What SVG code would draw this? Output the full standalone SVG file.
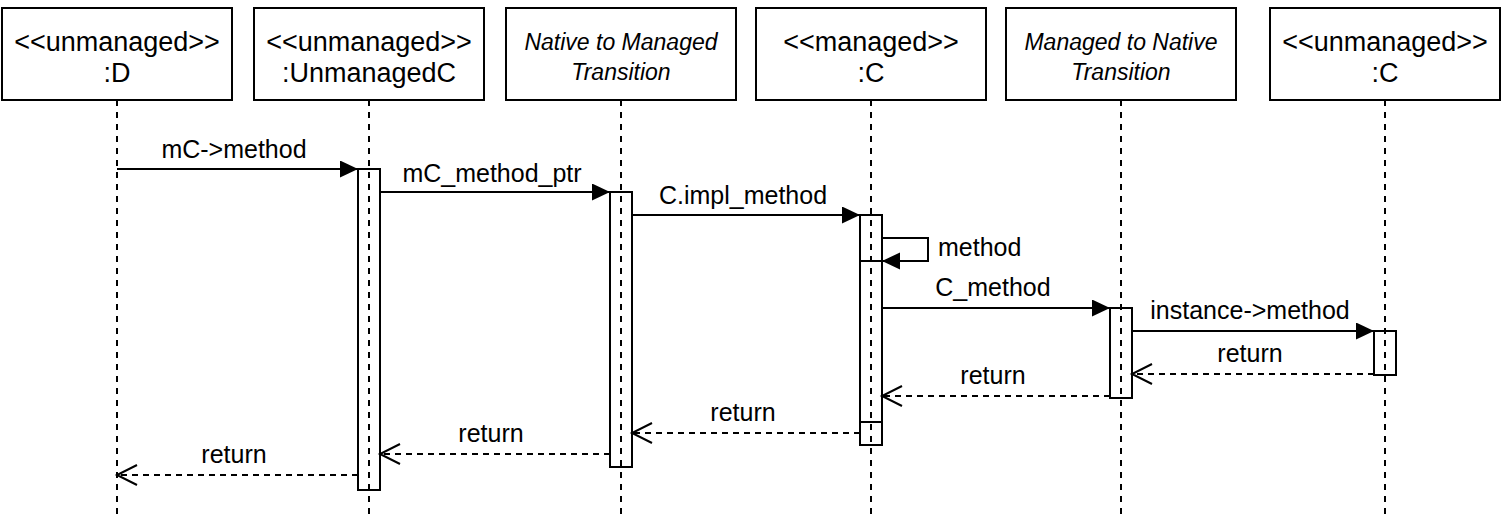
<svg xmlns="http://www.w3.org/2000/svg" width="1504" height="518" viewBox="0 0 1504 518">
<defs>
<style>
.box{fill:#fff;stroke:#000;stroke-width:2}
.act{fill:#fff;stroke:#000;stroke-width:2}
.life{stroke:#000;stroke-width:2;stroke-dasharray:6 6;fill:none}
.t{font-family:"Liberation Sans",Arial,Helvetica,sans-serif;font-size:27px;fill:#000;text-anchor:middle}
.ti{font-family:"Liberation Sans",Arial,Helvetica,sans-serif;font-size:23px;font-style:italic;fill:#000;text-anchor:middle}
.lbl{font-family:"Liberation Sans",Arial,Helvetica,sans-serif;font-size:25px;fill:#000;text-anchor:middle}
.msg{stroke:#000;stroke-width:2;fill:none;marker-end:url(#filled)}
.ret{stroke:#000;stroke-width:2;fill:none;stroke-dasharray:6 5;marker-end:url(#open)}
</style>
<marker id="filled" markerUnits="userSpaceOnUse" markerWidth="20" markerHeight="20" refX="18" refY="8.5" orient="auto" viewBox="0 0 20 20">
<path d="M0,0 L18,8.5 L0,17 z" fill="#000" stroke="none"/>
</marker>
<marker id="open" markerUnits="userSpaceOnUse" markerWidth="24" markerHeight="24" refX="20" refY="11" orient="auto" viewBox="-1 0 24 24">
<path d="M0,1 L20,11 L0,21" fill="none" stroke="#000" stroke-width="2" stroke-dasharray="none"/>
</marker>
</defs>
<rect width="1504" height="518" fill="#fff"/>

<g id="p1">
<rect class="box" x="2" y="8" width="230" height="92"/>
<text class="t" x="117" y="51">&lt;&lt;unmanaged&gt;&gt;</text>
<text class="t" x="117" y="82">:D</text>
<line class="life" x1="117" y1="100" x2="117" y2="518"/>
</g>

<g id="p2">
<rect class="box" x="254" y="8" width="230" height="92"/>
<text class="t" x="369" y="51">&lt;&lt;unmanaged&gt;&gt;</text>
<text class="t" x="369" y="82">:UnmanagedC</text>
<rect class="act" x="358" y="169" width="22" height="321"/>
<line class="life" x1="369" y1="100" x2="369" y2="518"/>
</g>

<g id="p3">
<rect class="box" x="506" y="8" width="230" height="92"/>
<text class="ti" x="621" y="50">Native to Managed</text>
<text class="ti" x="621" y="80">Transition</text>
<rect class="act" x="610" y="192" width="22" height="275"/>
<line class="life" x1="621" y1="100" x2="621" y2="518"/>
</g>

<g id="p4">
<rect class="box" x="756" y="8" width="230" height="92"/>
<text class="t" x="871" y="51">&lt;&lt;managed&gt;&gt;</text>
<text class="t" x="871" y="82">:C</text>
<rect class="act" x="860" y="215" width="22" height="230"/>
<rect class="act" x="860" y="261" width="22" height="161"/>
<line class="life" x1="871" y1="100" x2="871" y2="518"/>
</g>

<g id="p5">
<rect class="box" x="1006" y="8" width="230" height="92"/>
<text class="ti" x="1121" y="50">Managed to Native</text>
<text class="ti" x="1121" y="80">Transition</text>
<rect class="act" x="1110" y="308" width="22" height="90"/>
<line class="life" x1="1121" y1="100" x2="1121" y2="518"/>
</g>

<g id="p6">
<rect class="box" x="1270" y="8" width="230" height="92"/>
<text class="t" x="1385" y="51">&lt;&lt;unmanaged&gt;&gt;</text>
<text class="t" x="1385" y="82">:C</text>
<rect class="act" x="1374" y="331" width="22" height="44"/>
<line class="life" x1="1385" y1="100" x2="1385" y2="518"/>
</g>

<g id="connectors">
<line class="msg" x1="117" y1="169" x2="358" y2="169"/>
<text class="lbl" x="234" y="158">mC-&gt;method</text>
<line class="msg" x1="380" y1="192" x2="610" y2="192"/>
<text class="lbl" x="492" y="182">mC_method_ptr</text>
<line class="msg" x1="632" y1="215" x2="860" y2="215"/>
<text class="lbl" x="743" y="204">C.impl_method</text>
<path class="msg" d="M882,238 H928 V261 H882"/>
<text class="lbl" x="938" y="256" style="text-anchor:start">method</text>
<line class="msg" x1="882" y1="308" x2="1110" y2="308"/>
<text class="lbl" x="993" y="296">C_method</text>
<line class="msg" x1="1132" y1="331" x2="1374" y2="331"/>
<text class="lbl" x="1250" y="319">instance-&gt;method</text>
<line class="ret" x1="1374" y1="374" x2="1132" y2="374"/>
<text class="lbl" x="1250" y="362">return</text>
<line class="ret" x1="1110" y1="396" x2="882" y2="396"/>
<text class="lbl" x="993" y="384">return</text>
<line class="ret" x1="860" y1="433" x2="632" y2="433"/>
<text class="lbl" x="743" y="421">return</text>
<line class="ret" x1="610" y1="454" x2="380" y2="454"/>
<text class="lbl" x="491" y="442">return</text>
<line class="ret" x1="358" y1="475" x2="117" y2="475"/>
<text class="lbl" x="234" y="463">return</text>
</g>
</svg>
